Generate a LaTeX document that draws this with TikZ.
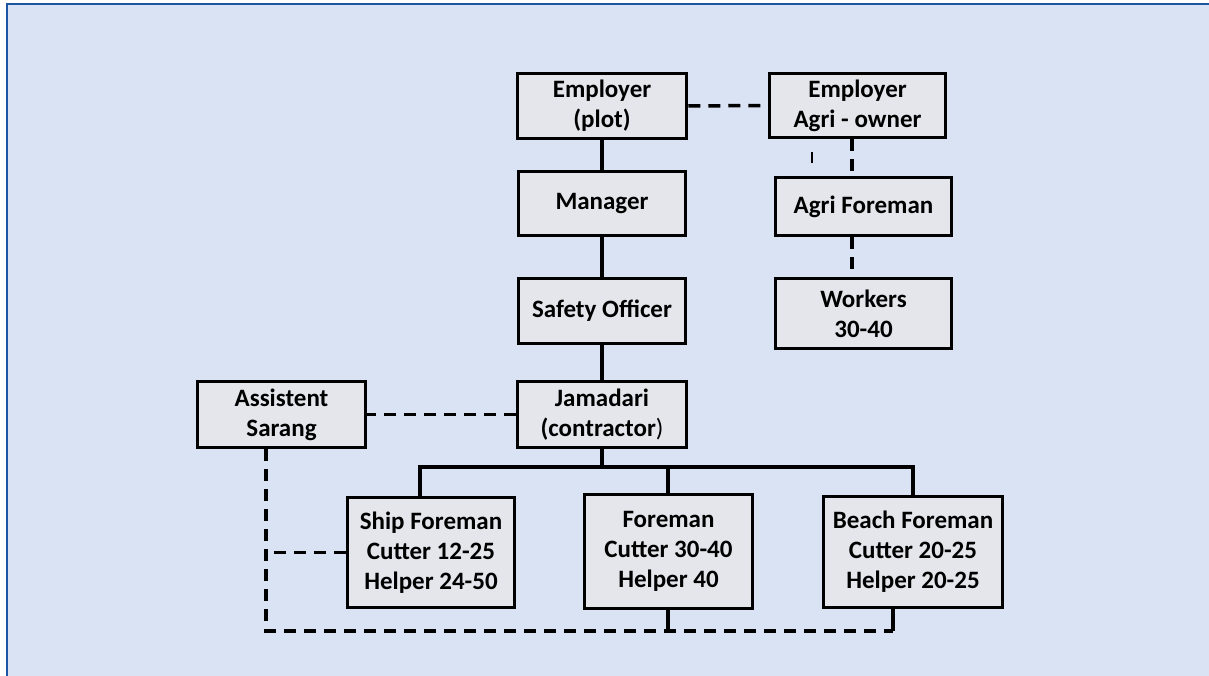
\documentclass[tikz,border=0pt]{standalone}
\usepackage{fontspec}
\setmainfont{Carlito}
\begin{document}
\begin{tikzpicture}[x=1pt,y=-1pt,
  box/.style={draw=black, line width=3.5pt, fill=boxgray, inner sep=0pt,
    align=center, font=\fontsize{25}{30}\selectfont\bfseries},
  link/.style={draw=black, line width=3.5pt},
  dashlink/.style={link, dash pattern=on 12pt off 8pt}]
\definecolor{boxgray}{HTML}{E4E6EC}
\definecolor{panel}{HTML}{DAE3F3}
\definecolor{frame}{HTML}{1C56A2}
\useasboundingbox (0,0) rectangle (1209,676);
% panel with its frame (only top and left edges fall inside the page)
\begin{scope}
  \clip (0,0) rectangle (1209,676);
  \fill[panel] (7,4) rectangle (1230,700);
  \draw[frame, line width=2.5pt] (7,700) -- (7,4) -- (1230,4);
\end{scope}

% boxes
\node[box, minimum width=169pt, minimum height=65pt] (emp) at (602,106) {Employer\\(plot)};
\node[box, minimum width=176pt, minimum height=64pt] (owner) at (857.5,105.5) {Employer\\Agri - owner};
\node[box, minimum width=167pt, minimum height=64pt] (mgr) at (602,203.5) {Manager};
\node[box, minimum width=167pt, minimum height=65pt] (safety) at (602,311) {Safety Officer};
\node[box, minimum width=169pt, minimum height=66pt] (jam) at (602,414.5) {Jamadari\\(contractor\textmd{)}};
\node[box, minimum width=168pt, minimum height=66pt] (asst) at (281.5,414.5) {Assistent\\Sarang};
\node[box, minimum width=167pt, minimum height=110pt] (ship) at (431,552.5) {Ship Foreman\\Cutter 12-25\\Helper 24-50};
\node[box, minimum width=168pt, minimum height=114pt] (fore) at (668.5,551.5) {Foreman\\Cutter 30-40\\Helper 40};
\node[box, minimum width=179pt, minimum height=111pt] (beach) at (913,552) {Beach Foreman\\Cutter 20-25\\Helper 20-25};
\node[box, minimum width=176pt, minimum height=58pt] (agrifore) at (863.5,206.5) {Agri Foreman};
\node[box, minimum width=176pt, minimum height=70pt] (workers) at (863.5,313.5) {Workers\\30-40};

% helper coordinates for the routed lines
\coordinate (agrix) at (852,0);
\coordinate (busy) at (0,467);
\coordinate (shipx) at (420,0);
\coordinate (forex) at (668,0);
\coordinate (beachx) at (913,0);
\coordinate (asstx) at (266,0);
\coordinate (loopy) at (0,631);
\coordinate (beachlo) at (893,0);
\coordinate (tickA) at (812,152);
\coordinate (tickB) at (812,163);

% solid reporting line
\draw[link] (emp.south) -- (mgr.north);
\draw[link] (mgr.south) -- (safety.north);
\draw[link] (safety.south) -- (jam.north);
\draw[link] (jam.south) -- (jam.south |- busy);
\draw[link] (shipx |- ship.north) -- (shipx |- busy) -- (beachx |- busy) -- (beachx |- beach.north);
\draw[link] (forex |- busy) -- (forex |- fore.north);

% dashed links
\draw[dashlink] (emp.east) -- (owner.west);
\draw[dashlink] (agrix |- owner.south) -- (agrix |- agrifore.north);
\draw[dashlink] (agrix |- agrifore.south) -- (agrix |- workers.north);
\draw[link, line width=2pt] (tickA) -- (tickB);
\draw[dashlink] (jam.west) -- (asst.east);
\draw[dashlink] (asstx |- asst.south) -- (asstx |- loopy) -- (beachlo |- loopy);
\draw[dashlink] (ship.west) -- (asstx |- ship.west);
\draw[link] (forex |- fore.south) -- (forex |- loopy);
\draw[link] (beachlo |- beach.south) -- (beachlo |- loopy);
\end{tikzpicture}
\end{document}
